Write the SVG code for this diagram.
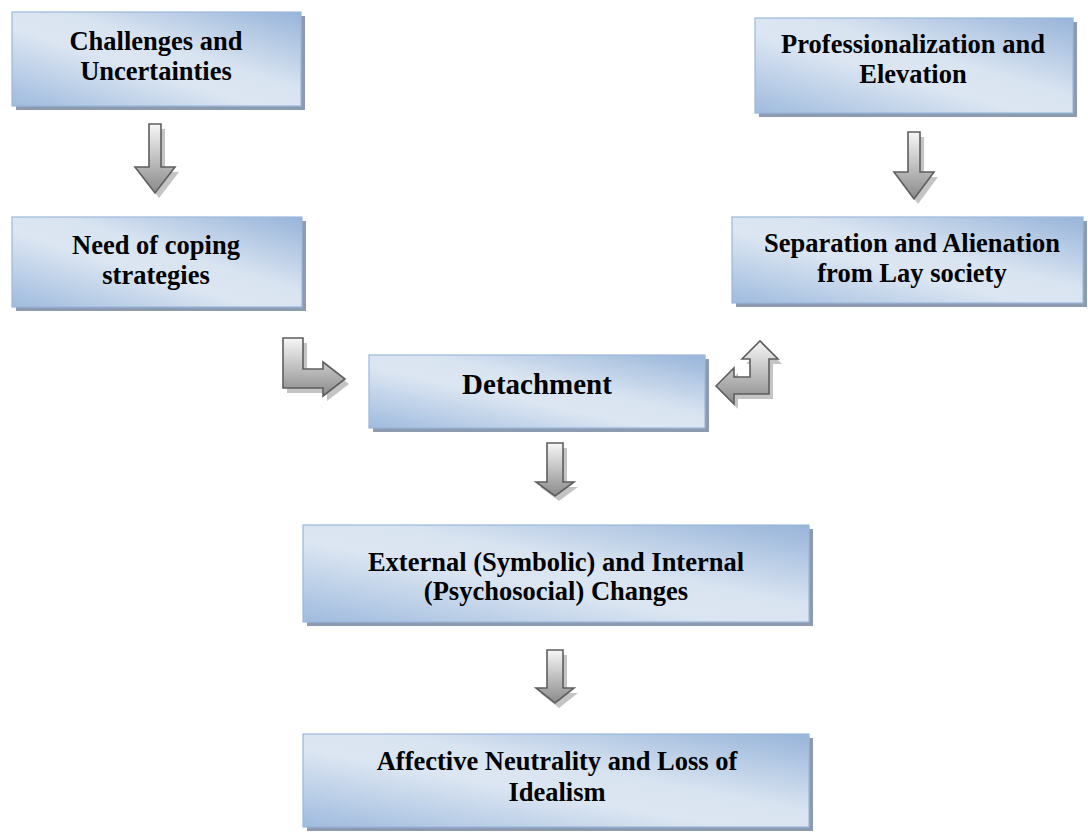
<svg xmlns="http://www.w3.org/2000/svg" width="1088" height="835" viewBox="0 0 1088 835">
<defs>
<linearGradient id="boxg" x1="1" y1="0" x2="0" y2="1">
<stop offset="0" stop-color="#97b4d9"/>
<stop offset="0.42" stop-color="#d9e4f1"/>
<stop offset="0.58" stop-color="#dce6f2"/>
<stop offset="1" stop-color="#9fbbde"/>
</linearGradient>
<linearGradient id="arrg" x1="0" y1="0" x2="0" y2="1">
<stop offset="0" stop-color="#f7f7f7"/>
<stop offset="1" stop-color="#8a8a8a"/>
</linearGradient>
<linearGradient id="arrgh" x1="0" y1="0" x2="0" y2="1">
<stop offset="0" stop-color="#f5f5f5"/>
<stop offset="1" stop-color="#8e8e8e"/>
</linearGradient>
</defs>
<style>
.shadow{fill:#8c9bb0}
.box{fill:url(#boxg);stroke:#9ab7dc;stroke-width:1.2}
.t{font-family:"Liberation Serif","Times New Roman",serif;font-weight:bold;font-size:26.5px;fill:#000;text-anchor:middle}
.ash{fill:#c4c4c4}
.arr{fill:url(#arrg);stroke:#5e5e5e;stroke-width:1.6;stroke-linejoin:miter}
</style>
<rect width="1088" height="835" fill="#fff"/>

<g id="connectors">
<g id="arrow-challenges-need">
<path class="ash" transform="translate(4,5)" d="M149,124 H161 V167 H175 L155,193 L135,167 H149 Z"/>
<path class="arr" d="M149,124 H161 V167 H175 L155,193 L135,167 H149 Z"/>
</g>
<g id="arrow-prof-sep">
<path class="ash" transform="translate(4,5)" d="M908,132 H920 V172 H934 L914,199 L894,172 H908 Z"/>
<path class="arr" d="M908,132 H920 V172 H934 L914,199 L894,172 H908 Z"/>
</g>
<g id="arrow-need-detach">
<path class="ash" transform="translate(4,5)" d="M283,338 H303 V369 H323 V362 L345,379 L323,396 V388 H283 Z"/>
<path class="arr" d="M283,338 H303 V369 H323 V362 L345,379 L323,396 V388 H283 Z"/>
</g>
<g id="arrow-detach-sep">
<path class="ash" transform="translate(4,5)" d="M716,386 L734,368 V377 H750 V359 H742 L760,341 L778,359 H769 V394 H734 V404 Z"/>
<path class="arr" d="M716,386 L734,368 V377 H750 V359 H742 L760,341 L778,359 H769 V394 H734 V404 Z"/>
</g>
<g id="arrow-detach-ext">
<path class="ash" transform="translate(4,5)" d="M547,443 H563 V482 H574 L555,496 L536,482 H547 Z"/>
<path class="arr" d="M547,443 H563 V482 H574 L555,496 L536,482 H547 Z"/>
</g>
<g id="arrow-ext-aff">
<path class="ash" transform="translate(4,5)" d="M547,650 H563 V688 H574 L555,703 L536,688 H547 Z"/>
<path class="arr" d="M547,650 H563 V688 H574 L555,703 L536,688 H547 Z"/>
</g>
</g>

<g id="node-challenges">
<rect class="shadow" x="16" y="16" width="289" height="94"/>
<rect class="box" x="12" y="12" width="289" height="94"/>
<text class="t" x="156" y="50">Challenges and</text>
<text class="t" x="156" y="80">Uncertainties</text>
</g>

<g id="node-need">
<rect class="shadow" x="16" y="221" width="290" height="90"/>
<rect class="box" x="12" y="217" width="290" height="90"/>
<text class="t" x="156" y="254">Need of coping</text>
<text class="t" x="156" y="284">strategies</text>
</g>

<g id="node-prof">
<rect class="shadow" x="759" y="22" width="318" height="95"/>
<rect class="box" x="755" y="18" width="318" height="95"/>
<text class="t" x="913" y="53">Professionalization and</text>
<text class="t" x="913" y="83">Elevation</text>
</g>

<g id="node-sep">
<rect class="shadow" x="736" y="221" width="351" height="86"/>
<rect class="box" x="732" y="217" width="351" height="86"/>
<text class="t" x="912" y="252">Separation and Alienation</text>
<text class="t" x="912" y="282">from Lay society</text>
</g>

<g id="node-detachment">
<rect class="shadow" x="373" y="359" width="336" height="73"/>
<rect class="box" x="369" y="355" width="336" height="73"/>
<text class="t" x="537" y="394" style="font-size:29px">Detachment</text>
</g>

<g id="node-external">
<rect class="shadow" x="307" y="529" width="506" height="97"/>
<rect class="box" x="303" y="525" width="506" height="97"/>
<text class="t" x="556" y="571">External (Symbolic) and Internal</text>
<text class="t" x="556" y="600">(Psychosocial) Changes</text>
</g>

<g id="node-affective">
<rect class="shadow" x="307" y="738" width="506" height="93"/>
<rect class="box" x="303" y="734" width="506" height="93"/>
<text class="t" x="557" y="770">Affective Neutrality and Loss of</text>
<text class="t" x="557" y="801">Idealism</text>
</g>
</svg>
